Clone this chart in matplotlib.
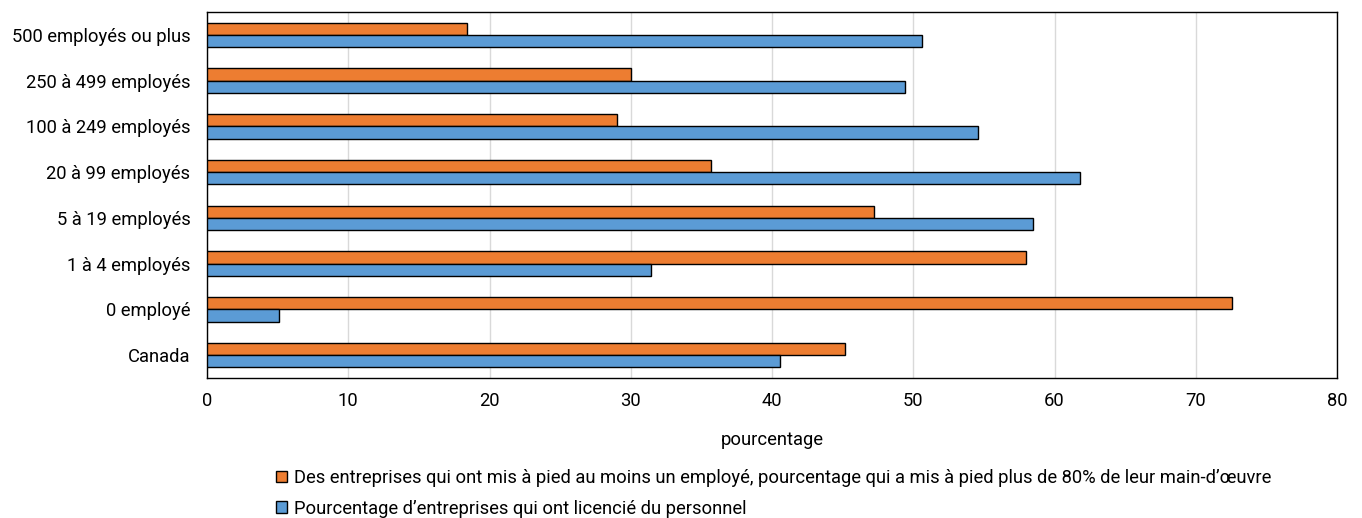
import matplotlib.pyplot as plt
import numpy as np
from matplotlib.patches import Patch

plt.rcParams['font.family'] = ['Roboto', 'DejaVu Sans']

# Data (top to bottom as shown)
categories = ['500 employés ou plus', '250 à 499 employés', '100 à 249 employés',
              '20 à 99 employés', '5 à 19 employés', '1 à 4 employés',
              '0 employé', 'Canada']
layoff_80 = [18.4, 30.0, 29.0, 35.7, 47.2, 58.0, 72.6, 45.2]
laid_off = [50.6, 49.4, 54.6, 61.8, 58.5, 31.4, 5.1, 40.6]

label_orange = ("Des entreprises qui ont mis à pied au moins un employé, "
                "pourcentage qui a mis à pied plus de 80% de leur main-d\u2019œuvre")
label_blue = "Pourcentage d\u2019entreprises qui ont licencié du personnel"

orange = '#ED7D31'
blue = '#5B9BD5'
fs = 13.25

fig = plt.figure(figsize=(13.62, 5.18), dpi=100)
ax = fig.add_axes([207 / 1362, 1 - 378 / 518, 1130 / 1362, 366 / 518])

y = np.arange(len(categories))
h = 0.27
ax.barh(y - h / 2, layoff_80, height=h, color=orange, edgecolor='black', linewidth=1, zorder=3)
ax.barh(y + h / 2, laid_off, height=h, color=blue, edgecolor='black', linewidth=1, zorder=3)

ax.set_ylim(len(categories) - 0.5, -0.5)
ax.set_xlim(0, 80)
ax.set_xticks(range(0, 81, 10))
ax.set_yticks(y)
ax.set_yticklabels(categories)
ax.tick_params(axis='both', length=0, labelsize=fs)
ax.tick_params(axis='x', pad=10)
ax.tick_params(axis='y', pad=12)
ax.grid(axis='x', color='#d9d9d9', linewidth=1, zorder=0)
for s in ax.spines.values():
    s.set_color('black')
    s.set_linewidth(1)

ax.set_xlabel('pourcentage', fontsize=fs, labelpad=15)

handles = [Patch(facecolor=orange, edgecolor='black', label=label_orange),
           Patch(facecolor=blue, edgecolor='black', label=label_blue)]
fig.legend(handles=handles, loc='upper left', bbox_to_anchor=(276 / 1362, 1 - 469 / 518),
           frameon=False, fontsize=fs, handlelength=0.6, handleheight=0.6,
           handletextpad=0.4, labelspacing=0.68, borderaxespad=0, borderpad=0)

fig.savefig('out.png', dpi=100)
